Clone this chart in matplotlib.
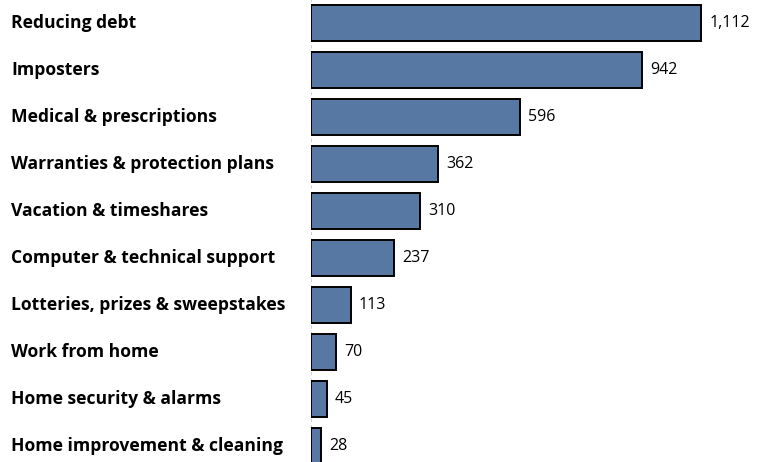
import matplotlib.pyplot as plt
import matplotlib.transforms as mtransforms

plt.rcParams.update({
    'font.family': ['Open Sans', 'DejaVu Sans'],
    'font.size': 10,
})

# Data
categories = ['Reducing debt', 'Imposters', 'Medical & prescriptions',
              'Warranties & protection plans', 'Vacation & timeshares',
              'Computer & technical support', 'Lotteries, prizes & sweepstakes',
              'Work from home', 'Home security & alarms',
              'Home improvement & cleaning']
values = [1112, 942, 596, 362, 310, 237, 113, 70, 45, 28]

BAR_COLOR = '#5878a4'

fig = plt.figure(figsize=(7.58, 4.62), dpi=100)
ax = fig.add_axes([311 / 758, 0, 1 - 311 / 758, 1])

pos = list(range(len(categories)))
ax.barh(pos, values, height=0.77, color=BAR_COLOR, edgecolor='black', linewidth=1.4, zorder=2)
ax.set_ylim(9.34, -0.49)
ax.set_xlim(0, 1274)

# faint dashed baseline
ax.axvline(0, color='#c8c8c8', lw=1.2, ls=(0, (2, 2)), zorder=1)

for p, v in zip(pos, values):
    ax.annotate(f'{v:,}', xy=(v, p), xytext=(6, 0), textcoords='offset points',
                va='center', ha='left', fontsize=11.5, color='black')

trans = mtransforms.blended_transform_factory(fig.transFigure, ax.transData)
for p, c in zip(pos, categories):
    ax.text(11 / 758, p, c, transform=trans, va='center', ha='left',
            fontsize=12.6, fontweight='bold', color='black')

ax.axis('off')
fig.savefig('out.png', dpi=100)
